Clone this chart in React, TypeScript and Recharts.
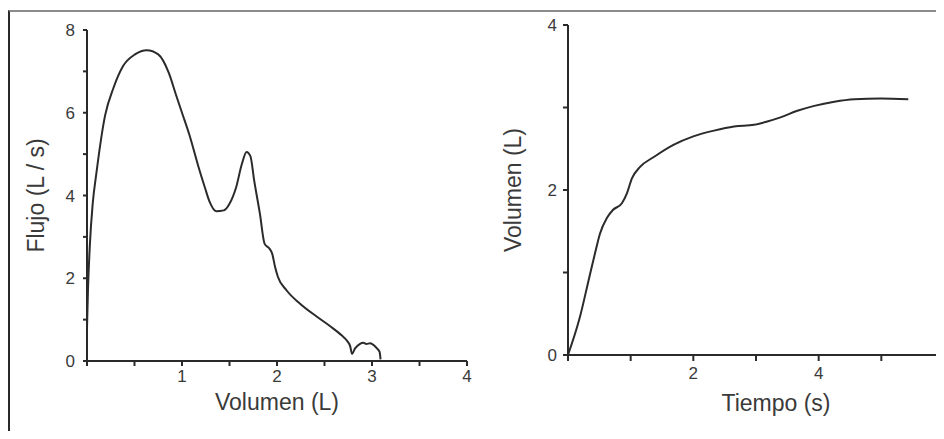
import { Line, LineChart, XAxis, YAxis } from 'recharts';

// curva flujo-volumen
const volumenFV = [0, 0.01, 0.03, 0.06, 0.1, 0.19, 0.28, 0.38, 0.505, 0.63, 0.75, 0.86, 0.94, 1.0, 1.08, 1.17, 1.24, 1.29, 1.36, 1.44, 1.5, 1.57, 1.63, 1.68, 1.72, 1.76, 1.82, 1.87, 1.92, 1.95, 1.98, 2.01, 2.1, 2.24, 2.42, 2.56, 2.68, 2.74, 2.77, 2.79, 2.82, 2.87, 2.91, 2.94, 2.98, 3.02, 3.05, 3.08, 3.09];
const flujoFV = [0.8, 1.7, 2.8, 3.8, 4.56, 5.93, 6.61, 7.13, 7.41, 7.51, 7.41, 6.97, 6.41, 6.0, 5.45, 4.72, 4.2, 3.85, 3.62, 3.64, 3.8, 4.2, 4.76, 5.05, 4.95, 4.36, 3.56, 2.83, 2.72, 2.59, 2.27, 2.03, 1.71, 1.39, 1.07, 0.84, 0.62, 0.48, 0.36, 0.17, 0.3, 0.41, 0.44, 0.41, 0.43, 0.38, 0.31, 0.22, 0.04];

// curva volumen-tiempo
const tiempoVT = [0, 0.19, 0.33, 0.43, 0.51, 0.62, 0.72, 0.86, 0.94, 1.02, 1.15, 1.37, 1.69, 2.0, 2.33, 2.65, 2.97, 3.18, 3.39, 3.66, 3.93, 4.25, 4.57, 4.99, 5.43];
const volumenVT = [0, 0.46, 0.91, 1.23, 1.47, 1.66, 1.76, 1.84, 1.96, 2.14, 2.28, 2.4, 2.55, 2.65, 2.72, 2.77, 2.79, 2.83, 2.88, 2.96, 3.02, 3.07, 3.1, 3.11, 3.1];

const ticksVolX = [0, 0.5, 1, 1.5, 2, 2.5, 3, 3.5, 4];
const ticksFlujoY = [0, 1, 2, 3, 4, 5, 6, 7, 8];
const ticksTiempoX = [0, 1, 2, 3, 4, 5, 6];
const ticksVolY = [0, 1, 2, 3, 4];

const dataFV = volumenFV.map((v, i) => ({ volumen: v, flujo: flujoFV[i] }));
const dataVT = tiempoVT.map((t, i) => ({ tiempo: t, volumen: volumenVT[i] }));

const font = '"Liberation Sans", Arial, sans-serif';
const tickStyle = { fontSize: 17, fill: '#3a3a3a', fontFamily: font };
const labelStyle = { fontSize: 23, fill: '#3a3a3a', fontFamily: font, textAnchor: 'middle' as const };
const axisLine = { stroke: '#2a2a2a', strokeWidth: 2 };
const tickLine = { stroke: '#2a2a2a', strokeWidth: 2 };

const evenOnly = (v: number) => (v % 2 === 0 ? String(v) : '');
const evenNoZero = (v: number) => (v % 2 === 0 && v > 0 ? String(v) : '');
const intNoZero = (v: number) => (Number.isInteger(v) && v > 0 ? String(v) : '');

export default function App() {
  return (
    <div style={{ position: 'relative', width: 936, height: 431, marginBottom: -8, overflow: 'hidden', background: '#fff' }}>
      <div
        style={{
          position: 'absolute',
          left: 0,
          top: 2,
          right: 0,
          bottom: 0,
          borderTop: '2px solid #8c8c8c',
          borderLeft: '2px solid #2a2a2a'
        }}
      />

      <div style={{ position: 'absolute', left: 0, top: 0 }}>
        <LineChart width={470} height={425} data={dataFV} margin={{ top: 22, right: 11, left: 0, bottom: 0 }}>
          <XAxis
            dataKey="volumen"
            type="number"
            domain={[0, 4]}
            ticks={ticksVolX}
            interval={0}
            tickFormatter={intNoZero}
            tick={tickStyle}
            tickSize={5}
            tickMargin={4}
            axisLine={axisLine}
            tickLine={tickLine}
            height={72}
            label={{ value: 'Volumen (L)', position: 'insideBottom', offset: 23, style: labelStyle }}
          />
          <YAxis
            type="number"
            domain={[0, 8]}
            ticks={ticksFlujoY}
            interval={0}
            tickFormatter={evenOnly}
            tick={tickStyle}
            tickSize={4}
            tickMargin={8}
            axisLine={axisLine}
            tickLine={tickLine}
            width={79}
            label={{ value: 'Flujo  (L / s)', angle: -90, position: 'insideLeft', offset: 28, style: labelStyle }}
          />
          <Line
            type="monotone"
            dataKey="flujo"
            stroke="#2b2b2b"
            strokeWidth={2}
            dot={false}
            isAnimationActive={false}
          />
        </LineChart>
      </div>

      <div style={{ position: 'absolute', left: 472, top: 0 }}>
        <LineChart width={464} height={425} data={dataVT} margin={{ top: 17, right: 0, left: 0, bottom: 0 }}>
          <XAxis
            dataKey="tiempo"
            type="number"
            domain={[0, 6]}
            ticks={ticksTiempoX}
            interval={0}
            tickFormatter={evenNoZero}
            tick={tickStyle}
            tickSize={6}
            tickMargin={6}
            axisLine={axisLine}
            tickLine={tickLine}
            height={78}
            label={{ value: 'Tiempo (s)', position: 'insideBottom', offset: 22, dx: 20, style: labelStyle }}
          />
          <YAxis
            type="number"
            domain={[0, 4]}
            ticks={ticksVolY}
            interval={0}
            tickFormatter={evenOnly}
            tick={tickStyle}
            tickSize={5}
            tickMargin={6}
            axisLine={axisLine}
            tickLine={tickLine}
            width={88}
            label={{ value: 'Volumen  (L)', angle: -90, position: 'insideLeft', offset: 33, style: labelStyle }}
          />
          <Line
            type="monotone"
            dataKey="volumen"
            stroke="#2b2b2b"
            strokeWidth={2}
            dot={false}
            isAnimationActive={false}
          />
        </LineChart>
      </div>
    </div>
  );
}
